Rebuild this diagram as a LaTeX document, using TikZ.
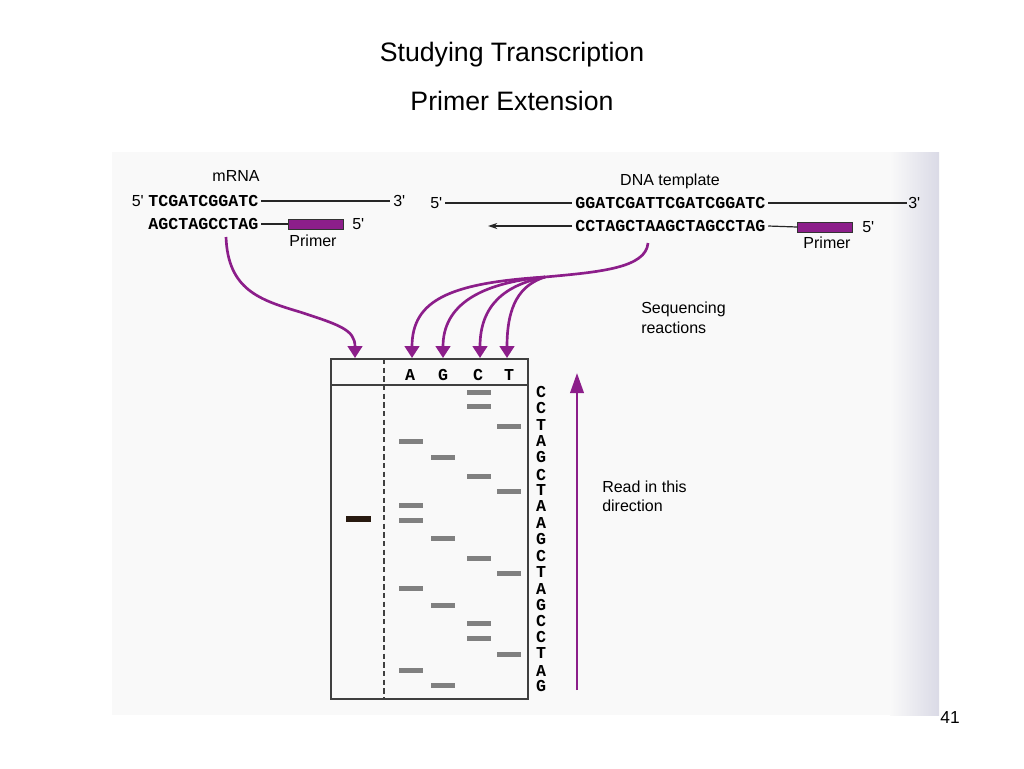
\documentclass[tikz,border=0pt]{standalone}
\usepackage{fontspec}
\setmainfont{Liberation Sans}[Ligatures=TeXOff]
\setmonofont{Liberation Mono}
\usetikzlibrary{arrows.meta}
\definecolor{purp}{RGB}{140,30,138}
\definecolor{bandgray}{RGB}{128,128,128}
\definecolor{markdark}{RGB}{40,26,16}
\definecolor{scan}{RGB}{249,249,249}
\definecolor{scanedge}{RGB}{218,218,230}
\begin{document}
\begin{tikzpicture}[x=0.75pt,y=-0.75pt,
  lbl/.style={font=\fontsize{12}{14}\selectfont, inner sep=0pt},
  titletext/.style={font=\fontsize{20}{24}\selectfont, inner sep=0pt},
  seq/.style={font=\fontsize{12.5}{14}\selectfont\ttfamily\bfseries, inner sep=0pt},
  strand/.style={line width=0.9pt, black!85},
  primerbox/.style={draw=black!80, fill=purp, line width=0.7pt, inner sep=0pt,
                    minimum width=41pt, minimum height=7.5pt},
  parrow/.style={purp, line width=2pt, -{Triangle[length=9pt,width=11pt]}},
  readarrow/.style={purp, line width=2pt, -{Triangle[length=15pt,width=10pt]}},
  bandbar/.style={fill=bandgray, inner sep=0pt, minimum width=18pt, minimum height=3.75pt},
  markbar/.style={fill=markdark, inner sep=0pt, minimum width=18.75pt, minimum height=4.5pt},
  gelline/.style={line width=1.1pt, black!75}
]
\useasboundingbox (0,0) rectangle (1024,768);
\fill[white] (0,0) rectangle (1024,768);
% scanned area
\fill[scan] (112,152) rectangle (890,715);
\shade[left color=scan, right color=scanedge] (890,152) rectangle (939,715);

% titles
\node[titletext] (t1) at (512,55) {Studying Transcription};
\node[titletext] (t2) at (512,101) {Primer Extension};

% mRNA panel
\node[lbl] (mrna) at (236,176) {mRNA};
\node[lbl, anchor=east] (m5a) at (144,201) {5'};
\node[seq, anchor=west] (m1) at (148,201) {TCGATCGGATC};
\node[lbl, anchor=west] (m3) at (393,201) {3'};
\draw[strand] ([xshift=2pt]m1.east) -- ([xshift=-2pt]m3.west);
\node[seq, anchor=west] (m2) at (148,224) {AGCTAGCCTAG};
\node[primerbox, anchor=west] (p1) at (288,224) {};
\draw[strand] ([xshift=2pt]m2.east) -- (p1.west);
\node[lbl, anchor=west] (m5b) at (352,224) {5'};
\node[lbl] (pl1) at (313,241) {Primer};

% DNA template panel
\node[lbl] (dna) at (670,181) {DNA template};
\node[lbl, anchor=west] (d5a) at (430,203) {5'};
\node[seq, anchor=west] (d1) at (575,203) {GGATCGATTCGATCGGATC};
\node[lbl, anchor=west] (d3) at (908,203) {3'};
\draw[strand] ([xshift=2pt]d5a.east) -- ([xshift=-2pt]d1.west);
\draw[strand] ([xshift=2pt]d1.east) -- ([xshift=-1pt]d3.west);
\node[seq, anchor=west] (d2) at (575,226) {CCTAGCTAAGCTAGCCTAG};
\coordinate (dl) at (488,226);
\draw[strand, -{Stealth[length=7pt,width=4.5pt]}] ([xshift=-2pt]d2.west) -- (dl);
\node[primerbox, anchor=west] (p2) at (797,227) {};
\draw[strand] ([xshift=2pt]d2.east) -- (p2.west);
\node[lbl, anchor=west] (d5b) at (862,227) {5'};
\node[lbl] (pl2) at (827,243) {Primer};

% arrows
\coordinate (l0) at (226,237);
\coordinate (lt) at (355,358);
\draw[parrow] (l0) .. controls (228,290) and (260,300) .. (300,312)
                   .. controls (340,325) and (355,330) .. (lt);
\coordinate (s0) at (648,243);
\coordinate (sj) at (545,277);
\coordinate (ta) at (412,358);
\coordinate (tg) at (443,358);
\coordinate (tc) at (480,358);
\coordinate (tt) at (507,358);
\draw[parrow] (s0) .. controls (646,268) and (600,272) .. (sj)
                   .. controls (450,283) and (412,300) .. (ta);
\draw[parrow] (sj) .. controls (480,283) and (443,305) .. (tg);
\draw[parrow] (sj) .. controls (505,285) and (480,305) .. (tc);
\draw[parrow] (sj) .. controls (520,285) and (507,305) .. (tt);
\node[lbl, anchor=west] (sq1) at (641,309) {Sequencing};
\node[lbl, anchor=west] (sq2) at (641,328) {reactions};

% gel
\draw[gelline] (331,359) rectangle (528,699);
\draw[gelline] (331,385) -- (528,385);
\draw[gelline, dash pattern=on 4pt off 2.5pt, line width=1pt] (384,359) -- (384,699);
\node[seq] (ha) at (410,375) {A};
\node[seq] (hg) at (443,375) {G};
\node[seq] (hc) at (478,375) {C};
\node[seq] (ht) at (509,375) {T};
\foreach \L/\ly/\by/\bx [count=\i] in {C/392/392/479, C/408/406/479, T/425/426/509,
   A/441/441/411, G/457/457/443, C/475/476/479, T/490/491/509, A/506/505/411,
   A/523/520/411, G/539/538/443, C/556/558/479, T/572/573/509, A/589/588/411,
   G/605/605/443, C/621/623/479, C/637/638/479, T/653/654/509, A/671/670/411,
   G/686/685/443} {
  \node[seq] (s\i) at (541,\ly) {\L};
  \node[bandbar] (b\i) at (\bx,\by) {};
}
\node[markbar] (mk) at (358,519) {};

% read direction
\coordinate (r0) at (577,690);
\coordinate (r1) at (577,373);
\draw[readarrow] (r0) -- (r1);
\node[lbl, anchor=west] (rd1) at (602,487) {Read in this};
\node[lbl, anchor=west] (rd2) at (602,506) {direction};

% page number
\node[font=\fontsize{13}{15}\selectfont, inner sep=0pt] (pg) at (950,718) {41};
\end{tikzpicture}
\end{document}
